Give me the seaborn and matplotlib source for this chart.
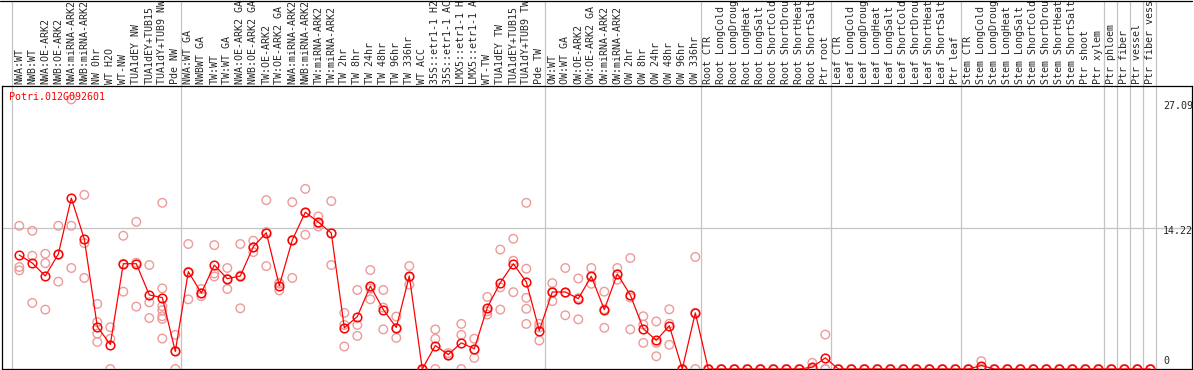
import pandas as pd
import seaborn as sns
import matplotlib.pyplot as plt
from matplotlib.transforms import offset_copy

# sample names as printed in the header (truncated to 14 chars like the original)
samples = [
    "NWA:WT", "NWB:WT", "NWA:OE-ARK2", "NWB:OE-ARK2", "NWA:miRNA-ARK2", "NWB:miRNA-ARK2",
    "NW 0hr", "WT H2O", "WT-NW", "TUA1dEY NW", "TUA1dEY+TUB15", "TUA1dY+TUB9 NW", "Pde NW",
    "NWA:WT GA", "NWBWT GA", "TW:WT", "TW:WT GA", "NWA:OE-ARK2 GA", "NWB:OE-ARK2 GA",
    "TW:OE-ARK2", "TW:OE-ARK2 GA", "NWA:miRNA-ARK2", "NWB:miRNA-ARK2", "TW:miRNA-ARK2",
    "TW:miRNA-ARK2", "TW 2hr", "TW 8hr", "TW 24hr", "TW 48hr", "TW 96hr", "TW 336hr",
    "WT ACC", "35S::etr1-1 H2", "35S::etr1-1 AC", "LMX5::etr1-1 H", "LMX5::etr1-1 A",
    "WT-TW", "TUA1dEY TW", "TUA1dEY+TUB15", "TUA1dY+TUB9 TW", "Pde TW",
    "OW:WT", "OW:WT GA", "OW:OE-ARK2", "OW:OE-ARK2 GA", "OW:miRNA-ARK2", "OW:miRNA-ARK2",
    "OW 2hr", "OW 8hr", "OW 24hr", "OW 48hr", "OW 96hr", "OW 336hr",
    "Root CTR", "Root LongCold", "Root LongDroug", "Root LongHeat", "Root LongSalt",
    "Root ShortCold", "Root ShortDrou", "Root ShortHeat", "Root ShortSalt", "Ptr root",
    "Leaf CTR", "Leaf LongCold", "Leaf LongDroug", "Leaf LongHeat", "Leaf LongSalt",
    "Leaf ShortCold", "Leaf ShortDrou", "Leaf ShortHeat", "Leaf ShortSalt", "Ptr leaf",
    "Stem CTR", "Stem LongCold", "Stem LongDroug", "Stem LongHeat", "Stem LongSalt",
    "Stem ShortCold", "Stem ShortDrou", "Stem ShortHeat", "Stem ShortSalt", "Ptr shoot",
    "Ptr xylem", "Ptr phloem", "Ptr fiber", "Ptr vessel", "Ptr fiber vess",
]

# mean expression per sample
mean_expr = [
    11.45, 10.65, 9.35, 11.55, 17.17, 13.06, 4.26, 2.46, 10.58, 10.58, 7.44, 7.17, 1.76,
    9.78, 7.64, 10.45, 9.08, 9.35, 12.29, 13.69, 8.38, 12.96, 15.76, 14.76, 13.66,
    4.14, 5.27, 8.34, 5.97, 4.17, 9.35, 0.0, 2.36, 1.45, 2.63, 2.03,
    6.17, 8.68, 10.58, 8.75, 3.86,
    7.74, 7.74, 7.07, 9.32, 5.97, 9.55, 7.44, 4.05, 2.88, 4.35, 0.0, 5.64,
    0, 0, 0, 0, 0, 0, 0, 0, 0.18, 1.12,
    0, 0, 0, 0, 0, 0, 0, 0, 0, 0,
    0, 0.35, 0, 0, 0, 0, 0, 0, 0, 0, 0,
    0, 0, 0, 0,
]

# individual replicates per sample
replicates = [
    [14.39, 10.25, 9.91], [13.89, 11.38, 6.64], [11.58, 10.64, 5.97], [14.39, 11.5, 8.78],
    [27.09, 14.39, 10.15], [17.5, 12.65, 9.15], [6.54, 4.72, 3.56, 2.72], [4.2, 3.04, 0.0],
    [13.39, 10.58, 7.77], [14.79, 10.68, 6.27], [10.45, 6.7, 5.12],
    [16.7, 8.1, 6.31, 5.91, 5.3, 5.03, 3.06], [3.43, 1.8, 0.0],
    [12.56, 9.78, 7.0], [8.04, 7.6, 7.31], [12.45, 9.6, 9.3], [10.15, 9.05, 8.04],
    [12.56, 9.39, 6.1], [12.89, 12.23, 11.75], [16.97, 13.76, 10.34], [8.66, 8.58, 7.9],
    [16.77, 12.96, 9.15], [18.1, 15.69, 13.49], [15.33, 14.63, 14.32], [16.87, 13.66, 10.45],
    [5.64, 4.43, 2.26], [7.94, 4.43, 3.33], [9.94, 8.08, 7.0], [7.94, 6.17, 3.98],
    [5.27, 4.11, 3.13], [10.35, 9.22, 8.48], [0, 0, 0], [3.98, 3.03, 0.0], [1.6, 1.4, 1.35],
    [4.53, 3.43, 0.0], [3.04, 1.93, 1.12], [7.24, 5.8, 5.47], [12.0, 8.2, 5.97],
    [13.09, 10.88, 7.72], [16.7, 10.08, 7.15, 6.05, 4.53], [4.55, 4.17, 2.86],
    [8.63, 7.77, 6.82], [10.15, 7.67, 5.4], [9.1, 7.12, 4.99], [10.15, 9.25, 8.56],
    [7.77, 6.0, 4.14], [10.15, 9.52, 8.98], [11.15, 7.19, 3.98], [5.3, 4.46, 2.63],
    [4.78, 2.63, 1.28], [6.0, 4.55, 2.43], [0, 0, 0], [11.26, 5.66, 0.0],
    [0, 0, 0], [0, 0, 0], [0, 0, 0], [0, 0, 0], [0, 0, 0],
    [0, 0, 0], [0, 0, 0], [0, 0, 0], [0.62, 0, 0], [3.46, 0, 0],
    [0, 0, 0], [0, 0, 0], [0, 0, 0], [0, 0, 0], [0, 0, 0],
    [0, 0, 0], [0, 0, 0], [0, 0, 0], [0, 0, 0], [0, 0, 0],
    [0, 0, 0], [0.79, 0.2, 0], [0, 0, 0], [0, 0, 0], [0, 0, 0], [0, 0, 0],
    [0, 0, 0], [0, 0, 0], [0, 0, 0], [0, 0, 0], [0, 0, 0],
    [0, 0, 0], [0, 0, 0], [0, 0, 0], [0, 0, 0],
]

# index of the first sample of each group (separators drawn before them) + end
group_starts = [0, 13, 41, 53, 63, 73, 84, 85, 86, 87, 88]

gene = "Potri.012G092601"
max_val = 27.09
mid_val = 14.22

rows = []
for i, reps in enumerate(replicates):
    for r in reps:
        rows.append((i, r))
rep_df = pd.DataFrame(rows, columns=["pos", "expr"])
mean_df = pd.DataFrame({"pos": range(len(samples)), "expr": mean_expr})

sns.set_style("white")
plt.rcParams["font.family"] = ["DejaVu Sans Mono"]

W, H = 1194, 370
fig = plt.figure(figsize=(W / 100, H / 100), dpi=100)
ax = fig.add_axes([2 / W, 1 / H, 1190 / W, 283 / H])

RED = "#ff0000"
PINK = "#ee9a9a"
GRAY = "#c4c4c4"

sns.scatterplot(data=rep_df, x="pos", y="expr", ax=ax, color=PINK, facecolor="none",
                edgecolor=PINK, s=38, linewidth=1.0, zorder=3)
sns.lineplot(data=mean_df, x="pos", y="expr", ax=ax, color=RED, lw=0.9, marker="o",
             ms=6.2, mfc="none", mec=RED, mew=1.1, zorder=4)

ax.set_xlim(-17.3 / 13, -17.3 / 13 + 1190 / 13)
ax.set_ylim(0, 2 * mid_val)
ax.set_xlabel("")
ax.set_ylabel("")

# header with rotated sample names on top
ax.xaxis.tick_top()
ax.set_xticks(range(len(samples)))
ax.set_xticklabels(samples, rotation=90, fontsize=7.2)
ax.tick_params(axis="x", length=0, pad=1.6)
ax.set_yticks([])

head = (283 + 85.5) / 283
for g in group_starts:
    ax.axvline(g - 0.6, ymin=0, ymax=head, clip_on=False, color=GRAY, lw=0.9, zorder=1)
ax.axhline(mid_val, color=GRAY, lw=0.9, zorder=1)
ax.plot([-2 / 1190, 1], [head, head], transform=ax.transAxes, clip_on=False,
        color="black", lw=0.9)

for sp in ax.spines.values():
    sp.set_color("black")
    sp.set_linewidth(0.9)

fig.text(9.5 / W, 1 - 97 / H, gene, color=RED, fontsize=7.2, ha="left", va="center")

tr = ax.get_yaxis_transform()
xl = (1163 - 2) / 1190
ax.text(xl, max_val, f"{max_val:.2f}", transform=offset_copy(tr, fig=fig, y=-2, units="dots"),
        fontsize=7.2, ha="left", va="top")
ax.text(xl, mid_val, f"{mid_val:.2f}", transform=offset_copy(tr, fig=fig, y=1, units="dots"),
        fontsize=7.2, ha="left", va="top")
ax.text(xl, 0, "0", transform=offset_copy(tr, fig=fig, y=8, units="dots"),
        fontsize=7.2, ha="left", va="center")

fig.savefig("out.png", dpi=100, facecolor="white")
